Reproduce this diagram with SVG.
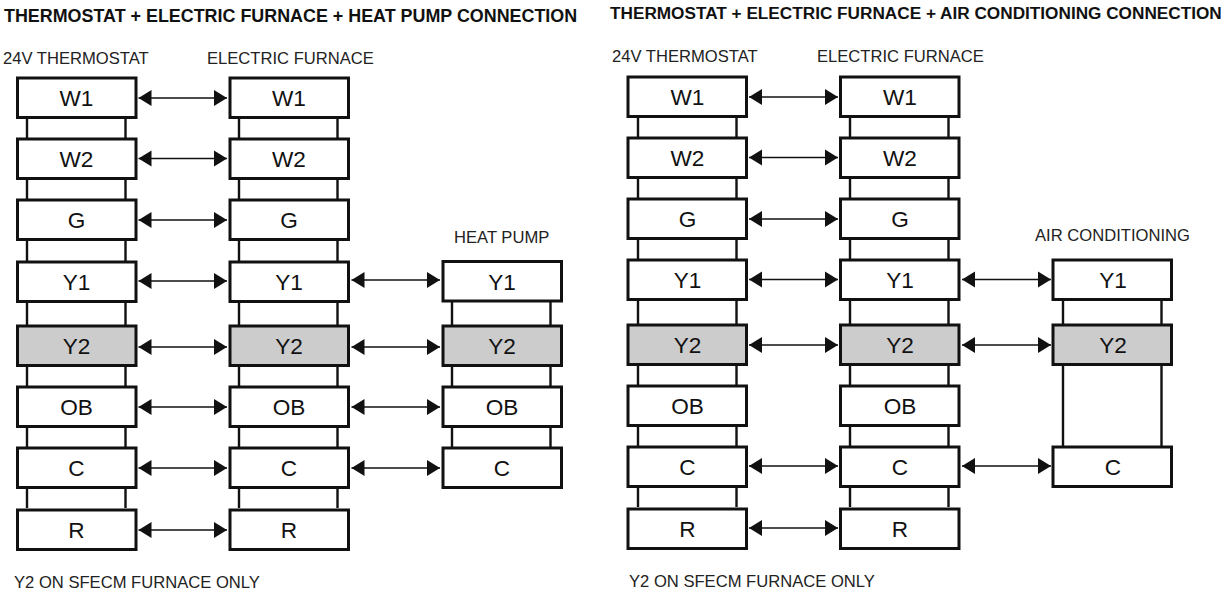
<svg xmlns="http://www.w3.org/2000/svg" width="1227" height="593" viewBox="0 0 1227 593">
<style>
text{font-family:"Liberation Sans",Arial,sans-serif;fill:#111}
.t{font-weight:bold}
.h{font-size:16.6px;fill:#222}
.l{font-size:22.6px;text-anchor:middle}
.b{fill:#fff;stroke:#111;stroke-width:3;width:118.5px;height:39.5px}
.g{fill:#ccc}
.r{stroke:#111;stroke-width:2.4;fill:none}
.a line{stroke:#111;stroke-width:1.6;marker-start:url(#ah);marker-end:url(#ah)}
</style>
<defs>
<marker id="ah" markerUnits="userSpaceOnUse" markerWidth="14" markerHeight="18" refX="13" refY="9" orient="auto-start-reverse"><path d="M0 1L13 9L0 17Z" fill="#111"/></marker>
</defs>
<rect width="1227" height="593" fill="#fff"/>
<text class="t" font-size="17.9" x="4" y="21.500">THERMOSTAT + ELECTRIC FURNACE + HEAT PUMP CONNECTION</text>
<text class="t" font-size="17.2" x="610" y="19">THERMOSTAT + ELECTRIC FURNACE + AIR CONDITIONING CONNECTION</text>
<text class="h" x="3" y="64">24V THERMOSTAT</text>
<text class="h" x="207" y="64">ELECTRIC FURNACE</text>
<text class="h" x="454" y="243">HEAT PUMP</text>
<text class="h" x="14" y="588">Y2 ON SFECM FURNACE ONLY</text>
<text class="h" x="612" y="62">24V THERMOSTAT</text>
<text class="h" x="817" y="62">ELECTRIC FURNACE</text>
<text class="h" x="1035" y="241">AIR CONDITIONING</text>
<text class="h" x="629" y="587">Y2 ON SFECM FURNACE ONLY</text>
<g id="connectors">
<path class="r" d="M27 118V508M125.500 118V508M239 118V508M337.500 118V508M452 302V447M550.500 302V447M638 117V507M736.500 117V507M850 117V507M948.500 117V507M1063 300V446M1161.500 300V446"/>
<g class="a">
<line x1="138.500" x2="227" y1="98" y2="98"/>
<line x1="138.500" x2="227" y1="158.500" y2="158.500"/>
<line x1="138.500" x2="227" y1="220" y2="220"/>
<line x1="138.500" x2="227" y1="281" y2="281"/>
<line x1="138.500" x2="227" y1="347" y2="347"/>
<line x1="138.500" x2="227" y1="407" y2="407"/>
<line x1="138.500" x2="227" y1="468" y2="468"/>
<line x1="138.500" x2="227" y1="530" y2="530"/>
<line x1="351.500" x2="440" y1="280" y2="280"/>
<line x1="351.500" x2="440" y1="347" y2="347"/>
<line x1="351.500" x2="440" y1="407" y2="407"/>
<line x1="351.500" x2="440" y1="468" y2="468"/>
<line x1="749" x2="838" y1="97" y2="97"/>
<line x1="749" x2="838" y1="157.500" y2="157.500"/>
<line x1="749" x2="838" y1="219" y2="219"/>
<line x1="749" x2="838" y1="279.500" y2="279.500"/>
<line x1="749" x2="838" y1="345" y2="345"/>
<line x1="749" x2="838" y1="466" y2="466"/>
<line x1="749" x2="838" y1="528" y2="528"/>
<line x1="962" x2="1051" y1="279.500" y2="279.500"/>
<line x1="962" x2="1051" y1="345" y2="345"/>
<line x1="962" x2="1051" y1="466" y2="466"/>
</g>
</g>
<g id="a-w1"><rect class="b" x="17.500" y="78" /><text class="l" x="76.500" y="106">W1</text></g>
<g id="a-w2"><rect class="b" x="17.500" y="139" /><text class="l" x="76.500" y="167">W2</text></g>
<g id="a-g"><rect class="b" x="17.500" y="200" /><text class="l" x="76.500" y="228">G</text></g>
<g id="a-y1"><rect class="b" x="17.500" y="262" /><text class="l" x="76.500" y="290">Y1</text></g>
<g id="a-y2"><rect class="b g" x="17.500" y="326" /><text class="l" x="76.500" y="354">Y2</text></g>
<g id="a-ob"><rect class="b" x="17.500" y="387" /><text class="l" x="76.500" y="415">OB</text></g>
<g id="a-c"><rect class="b" x="17.500" y="448" /><text class="l" x="76.500" y="476">C</text></g>
<g id="a-r"><rect class="b" x="17.500" y="510" /><text class="l" x="76.500" y="538">R</text></g>
<g id="b-w1"><rect class="b" x="230" y="78" /><text class="l" x="289" y="106">W1</text></g>
<g id="b-w2"><rect class="b" x="230" y="139" /><text class="l" x="289" y="167">W2</text></g>
<g id="b-g"><rect class="b" x="230" y="200" /><text class="l" x="289" y="228">G</text></g>
<g id="b-y1"><rect class="b" x="230" y="262" /><text class="l" x="289" y="290">Y1</text></g>
<g id="b-y2"><rect class="b g" x="230" y="326" /><text class="l" x="289" y="354">Y2</text></g>
<g id="b-ob"><rect class="b" x="230" y="387" /><text class="l" x="289" y="415">OB</text></g>
<g id="b-c"><rect class="b" x="230" y="448" /><text class="l" x="289" y="476">C</text></g>
<g id="b-r"><rect class="b" x="230" y="510" /><text class="l" x="289" y="538">R</text></g>
<g id="c-y1"><rect class="b" x="443" y="261.500" /><text class="l" x="502" y="290">Y1</text></g>
<g id="c-y2"><rect class="b g" x="443" y="326" /><text class="l" x="502" y="354">Y2</text></g>
<g id="c-ob"><rect class="b" x="443" y="387" /><text class="l" x="502" y="415">OB</text></g>
<g id="c-c"><rect class="b" x="443" y="448" /><text class="l" x="502" y="476">C</text></g>
<g id="d-w1"><rect class="b" x="628" y="77" /><text class="l" x="687.500" y="105">W1</text></g>
<g id="d-w2"><rect class="b" x="628" y="138" /><text class="l" x="687.500" y="166">W2</text></g>
<g id="d-g"><rect class="b" x="628" y="199" /><text class="l" x="687.500" y="227">G</text></g>
<g id="d-y1"><rect class="b" x="628" y="260" /><text class="l" x="687.500" y="288">Y1</text></g>
<g id="d-y2"><rect class="b g" x="628" y="325" /><text class="l" x="687.500" y="353">Y2</text></g>
<g id="d-ob"><rect class="b" x="628" y="386" /><text class="l" x="687.500" y="414">OB</text></g>
<g id="d-c"><rect class="b" x="628" y="447" /><text class="l" x="687.500" y="475">C</text></g>
<g id="d-r"><rect class="b" x="628" y="509" /><text class="l" x="687.500" y="537">R</text></g>
<g id="e-w1"><rect class="b" x="840.500" y="77" /><text class="l" x="900" y="105">W1</text></g>
<g id="e-w2"><rect class="b" x="840.500" y="138" /><text class="l" x="900" y="166">W2</text></g>
<g id="e-g"><rect class="b" x="840.500" y="199" /><text class="l" x="900" y="227">G</text></g>
<g id="e-y1"><rect class="b" x="840.500" y="260" /><text class="l" x="900" y="288">Y1</text></g>
<g id="e-y2"><rect class="b g" x="840.500" y="325" /><text class="l" x="900" y="353">Y2</text></g>
<g id="e-ob"><rect class="b" x="840.500" y="386" /><text class="l" x="900" y="414">OB</text></g>
<g id="e-c"><rect class="b" x="840.500" y="447" /><text class="l" x="900" y="475">C</text></g>
<g id="e-r"><rect class="b" x="840.500" y="509" /><text class="l" x="900" y="537">R</text></g>
<g id="f-y1"><rect class="b" x="1053" y="260" /><text class="l" x="1113" y="288">Y1</text></g>
<g id="f-y2"><rect class="b g" x="1053" y="325" /><text class="l" x="1113" y="353">Y2</text></g>
<g id="f-c"><rect class="b" x="1053" y="447" /><text class="l" x="1113" y="475">C</text></g>
</svg>
